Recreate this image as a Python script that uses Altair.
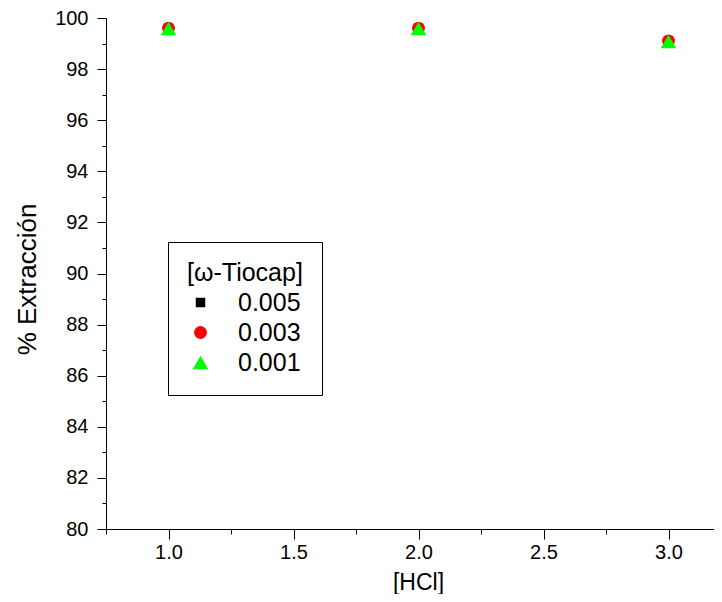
import altair as alt
import pandas as pd

hcl = [1.0, 2.0, 3.0]
series = ["0.005", "0.003", "0.001"]
ext_0005 = [99.6, 99.6, 99.1]
ext_0003 = [99.6, 99.6, 99.1]
ext_0001 = [99.59, 99.59, 99.08]
colors = ["#000000", "#ff0000", "#00ff00"]
shapes = ["square", "circle", "triangle-up"]
symbol_size_range = [90, 240]
x_ticks = [0.75, 1.0, 1.25, 1.5, 1.75, 2.0, 2.25, 2.5, 2.75, 3.0]
y_ticks = list(range(80, 101))

rows = []
for s, vals in zip(series, [ext_0005, ext_0003, ext_0001]):
    for h, v in zip(hcl, vals):
        rows.append({"HCl": h, "ext": v, "series": s})
df = pd.DataFrame(rows)

FONT = "Liberation Sans"

x_axis = alt.Axis(
    values=x_ticks, format=".1f",
    labelExpr="(datum.value * 2) % 1 === 0 ? datum.label : ''",
    tickSize={"condition": {"test": "(datum.value * 2) % 1 === 0", "value": 10}, "value": 5},
    grid=False, domainColor="black", tickColor="black", labelColor="black",
    labelFont=FONT, labelFontSize=20, labelPadding=3, labelFlush=False,
    title="[HCl]", titleFont=FONT, titleFontSize=23, titleFontWeight="normal",
    titleColor="black", titleBaseline="alphabetic", titleY=60, titleX=312,
)
y_axis = alt.Axis(
    values=y_ticks,
    labelExpr="datum.value % 2 === 0 ? datum.label : ''",
    tickSize={"condition": {"test": "datum.value % 2 === 0", "value": 9}, "value": 4},
    grid=False, domainColor="black", tickColor="black", labelColor="black",
    labelFont=FONT, labelFontSize=20, labelPadding=9, labelFlush=False,
    title="% Extracción", titleFont=FONT, titleFontSize=26, titleFontWeight="normal",
    titleColor="black", titleAngle=270, titleBaseline="alphabetic",
    titleX=-71, titleY=261, titleAlign="center",
)

legend = alt.Legend(
    title="[ω-Tiocap]", orient="none", legendX=62, legendY=224,
    strokeColor="black", padding=19, titleFont=FONT, titleFontSize=25,
    titleFontWeight="normal", titleColor="black", labelFont=FONT,
    labelFontSize=25, labelColor="black", rowPadding=4, titlePadding=4,
    symbolOffset=1, labelOffset=25,
)

chart = alt.Chart(df).mark_point(filled=True, opacity=1).encode(
    x=alt.X("HCl:Q", scale=alt.Scale(domain=[0.75, 3.182], nice=False, zero=False), axis=x_axis),
    y=alt.Y("ext:Q", scale=alt.Scale(domain=[80, 100], nice=False, zero=False), axis=y_axis),
    color=alt.Color("series:N", scale=alt.Scale(domain=series, range=colors), sort=series, legend=legend),
    shape=alt.Shape("series:N", scale=alt.Scale(domain=series, range=shapes), sort=series, legend=legend),
    size=alt.Size("series:N",
                  scale=alt.Scale(type="point", domain=series, range=symbol_size_range, padding=0),
                  sort=series, legend=legend),
).properties(
    width=608, height=511,
    autosize=alt.AutoSizeParams(type="none"),
    padding={"left": 98, "top": 10, "right": 0, "bottom": 65},
    background="white",
).configure_view(stroke=None)

chart.save("out.html", embed_options={"renderer": "svg", "actions": False})
